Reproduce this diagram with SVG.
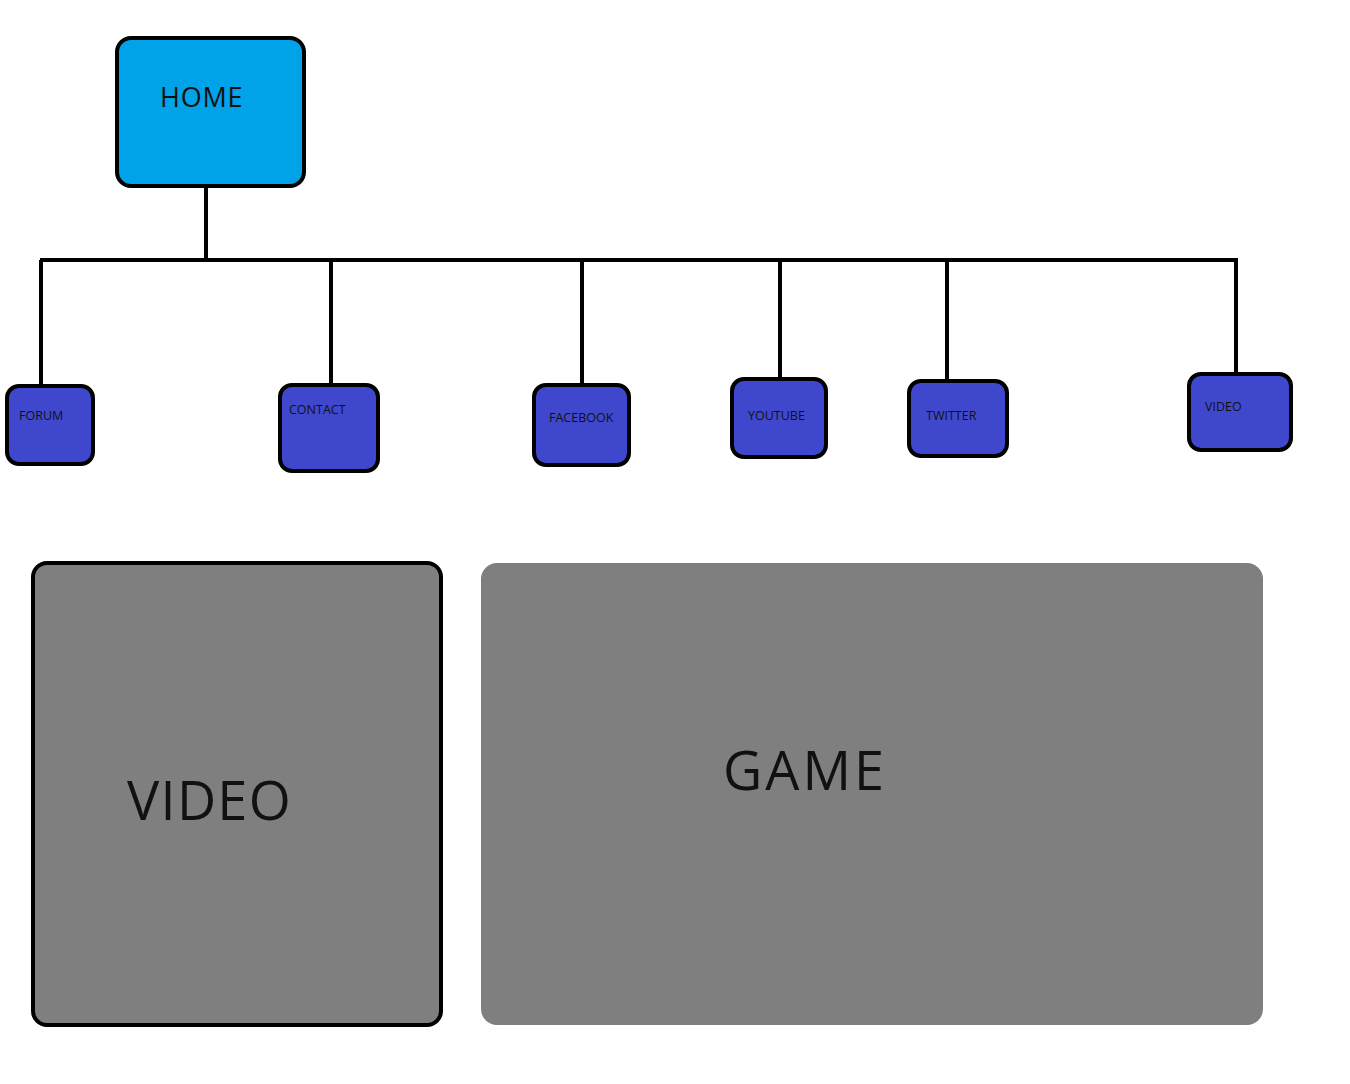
<svg xmlns="http://www.w3.org/2000/svg" width="1350" height="1084" viewBox="0 0 1350 1084">
<style>
.line{stroke:#000;stroke-width:4;fill:none}
.small{fill:#3F48CC;stroke:#000;stroke-width:4}
.lbl{font-family:"Open Sans","Noto Sans",sans-serif;fill:#111}
.s{font-size:12.5px}
</style>
<rect width="1350" height="1084" fill="#fff"/>
<g id="connectors">
<path class="line" d="M206 186V260M40 260H1238M41 260V386M331 260V385M582 260V385M780 260V379M947 260V381M1236 260V374"/>
</g>
<g id="home">
<rect x="117" y="38" width="187" height="148" rx="14" fill="#00A2E8" stroke="#000" stroke-width="4"/>
<text class="lbl" x="160" y="107" font-size="27" letter-spacing="0.8">HOME</text>
</g>
<g id="forum">
<rect class="small" x="7" y="386" width="86" height="78" rx="12"/>
<text class="lbl s" x="19" y="420">FORUM</text>
</g>
<g id="contact">
<rect class="small" x="280" y="385" width="98" height="86" rx="12"/>
<text class="lbl s" x="289" y="414">CONTACT</text>
</g>
<g id="facebook">
<rect class="small" x="534" y="385" width="95" height="80" rx="12"/>
<text class="lbl s" x="549" y="422">FACEBOOK</text>
</g>
<g id="youtube">
<rect class="small" x="732" y="379" width="94" height="78" rx="12"/>
<text class="lbl s" x="748" y="420">YOUTUBE</text>
</g>
<g id="twitter">
<rect class="small" x="909" y="381" width="98" height="75" rx="12"/>
<text class="lbl s" x="926" y="420">TWITTER</text>
</g>
<g id="video-small">
<rect class="small" x="1189" y="374" width="102" height="76" rx="12"/>
<text class="lbl s" x="1205" y="411">VIDEO</text>
</g>
<g id="video-big">
<rect x="33" y="563" width="408" height="462" rx="14" fill="#7F7F7F" stroke="#000" stroke-width="4"/>
<text class="lbl" x="127" y="820" font-size="54" letter-spacing="1.3">VIDEO</text>
</g>
<g id="game">
<rect x="481" y="563" width="782" height="462" rx="16" fill="#7F7F7F"/>
<text class="lbl" x="723" y="790" font-size="54" letter-spacing="3">GAME</text>
</g>
</svg>
